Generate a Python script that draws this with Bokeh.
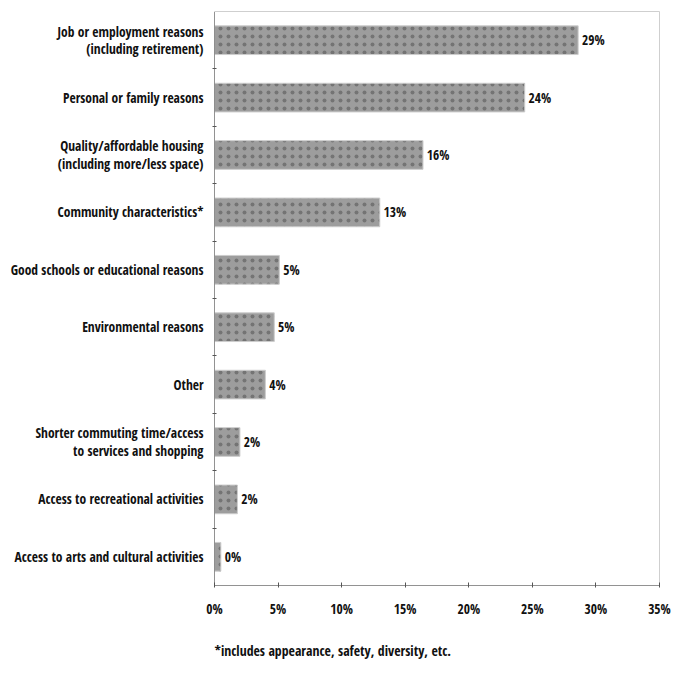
from bokeh.plotting import figure
from bokeh.models import (Range1d, LinearAxis, FixedTicker, ColumnDataSource, Title)
from bokeh.core.properties import value
from bokeh.embed import file_html
from bokeh.resources import INLINE

categories = [
    "Job or employment reasons\n(including retirement)",
    "Personal or family reasons",
    "Quality/affordable housing\n(including more/less space)",
    "Community characteristics*",
    "Good schools or educational reasons",
    "Environmental reasons",
    "Other",
    "Shorter commuting time/access\nto services and shopping",
    "Access to recreational activities",
    "Access to arts and cultural activities",
]
values = [28.6, 24.4, 16.4, 13.0, 5.1, 4.7, 4.0, 2.0, 1.8, 0.5]
labels = ["29%", "24%", "16%", "13%", "5%", "5%", "4%", "2%", "2%", "0%"]
x_ticks = [0, 5, 10, 15, 20, 25, 30, 35]
x_tick_labels = ["0%", "5%", "10%", "15%", "20%", "25%", "30%", "35%"]
footnote = "*includes appearance, safety, diversity, etc."

FONT = "Open Sans Condensed"
TXT = "#111111"
AXC = "#555555"
FS = "13.5px"

n = len(categories)
ypos = [n - i - 0.5 for i in range(n)]   # band centres, first category on top
bounds = list(range(1, n))

p = figure(width=673, height=677, output_backend="svg", toolbar_location=None,
           y_range=Range1d(0, n), x_range=Range1d(0, 35),
           x_axis_location=None, y_axis_location=None,
           min_border_left=214, min_border_right=14, min_border_top=11, min_border_bottom=92)
p.grid.visible = False
p.outline_line_color = "#cfcfcf"
p.outline_line_width = 1
p.background_fill_color = "white"
p.border_fill_color = "white"

src = ColumnDataSource(dict(y=ypos, val=values, lab=labels,
                            lx=[v + 0.3 for v in values]))
p.hbar(y="y", right="val", left=0, height=0.5, source=src,
       fill_color="#9d9d9d", line_color="#cdcdcd", line_width=1,
       hatch_pattern="dot", hatch_color="#747474", hatch_scale=8, hatch_weight=1)
p.text(x="lx", y="y", text="lab", source=src, text_font=value(FONT),
       text_font_style="bold", text_font_size=FS, text_color=TXT,
       text_align="left", text_baseline="middle")

# left axis: dotted line with ticks at band boundaries
tick_axis = LinearAxis(ticker=FixedTicker(ticks=bounds),
                       major_label_overrides={b: " " for b in bounds},
                       major_label_text_font_size="1px", major_label_standoff=0,
                       major_tick_in=2, major_tick_out=2,
                       axis_line_color=AXC, axis_line_dash="1 1", major_tick_line_color=AXC,
                       minor_tick_line_color=None)
p.add_layout(tick_axis, "left")

cat_axis = LinearAxis(ticker=FixedTicker(ticks=ypos),
                      major_label_overrides={y: c for y, c in zip(ypos, categories)},
                      axis_line_color=None, major_tick_line_color=None,
                      minor_tick_line_color=None, major_label_standoff=0,
                      major_label_text_font=FONT, major_label_text_font_style="bold",
                      major_label_text_font_size=FS, major_label_text_color=TXT,
                      major_label_text_line_height=0.95)
p.add_layout(cat_axis, "left")

xa = LinearAxis(ticker=FixedTicker(ticks=x_ticks),
                major_label_overrides={t: l for t, l in zip(x_ticks, x_tick_labels)},
                major_tick_in=3, major_tick_out=2, minor_tick_line_color=None,
                axis_line_color=AXC, axis_line_dash="1 1", major_tick_line_color=AXC,
                major_label_standoff=12, major_label_text_font=FONT,
                major_label_text_font_style="bold", major_label_text_font_size=FS,
                major_label_text_color=TXT)
p.add_layout(xa, "below")

p.add_layout(Title(text=footnote, align="left", standoff=36, text_font=FONT,
                   text_font_style="bold", text_font_size="13.8px", text_color=TXT), "below")

open("out.html", "w").write(file_html(p, INLINE))
